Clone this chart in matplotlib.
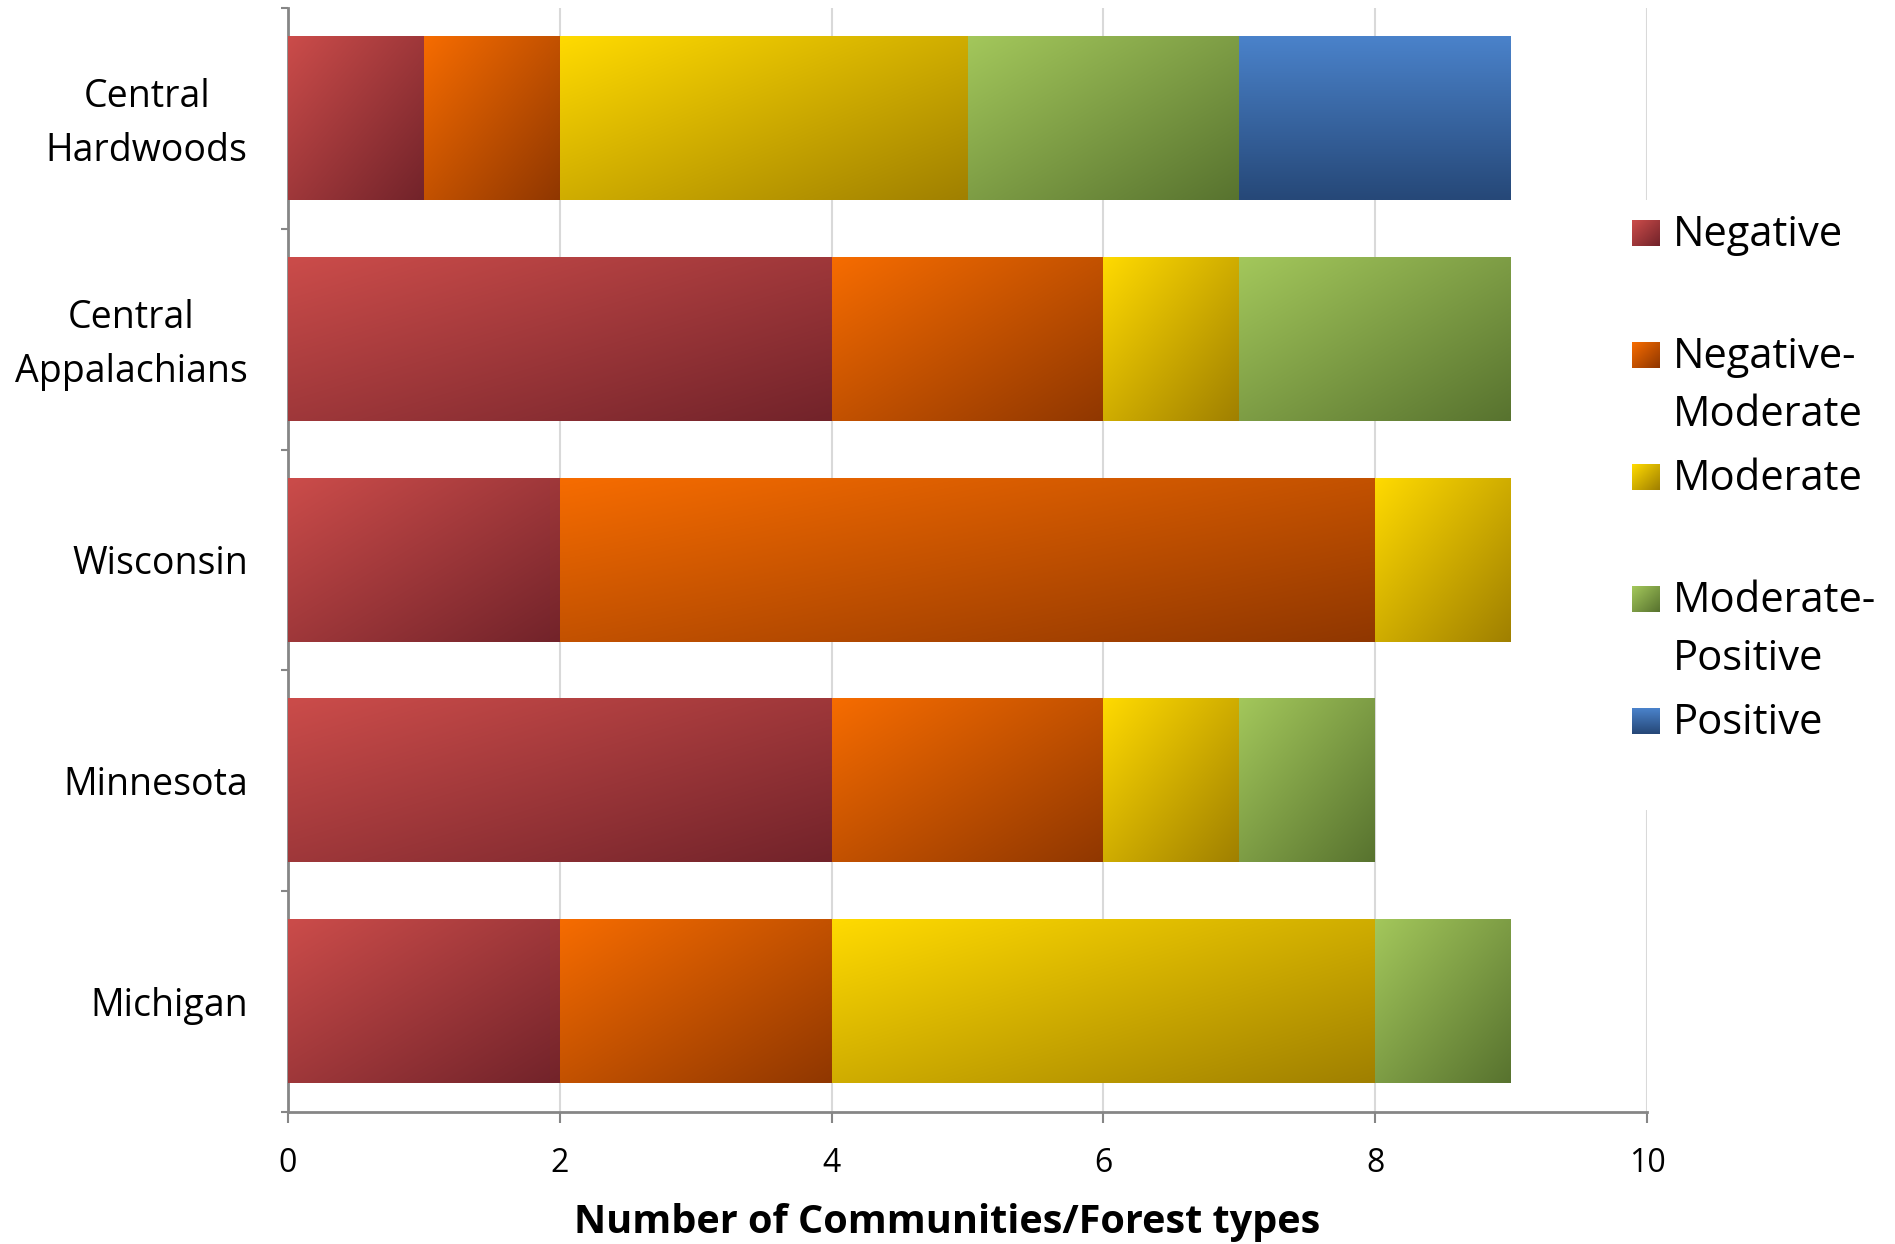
import matplotlib

matplotlib.use("Agg")
import matplotlib.pyplot as plt
import matplotlib.transforms as mtransforms
import numpy as np
from matplotlib.colors import to_rgb
from matplotlib.patches import Rectangle

REGIONS = ["Michigan", "Minnesota", "Wisconsin", "Central\nAppalachians", "Central\nHardwoods"]
SERIES = ["Negative", "Negative-\nModerate", "Moderate", "Moderate-\nPositive", "Positive"]

negative = [2, 4, 2, 4, 1]
negative_moderate = [2, 2, 6, 2, 1]
moderate = [4, 1, 1, 1, 3]
moderate_positive = [1, 1, 0, 2, 2]
positive = [0, 0, 0, 0, 2]

X_TICKS = [0, 2, 4, 6, 8, 10]

# (light, dark, direction) per series
GRADIENTS = [
    ("#CB4C4A", "#72232A", "diag"),
    ("#F66C00", "#903700", "diag"),
    ("#FFDA00", "#A08000", "diag"),
    ("#A3C75B", "#58732F", "diag"),
    ("#4A82CA", "#264878", "vert"),
]

W, H = 1895, 1244

plt.rcParams["font.family"] = ["Open Sans", "DejaVu Sans"]


def gradient_image(light, dark, direction, n=80):
    c0 = np.array(to_rgb(light))
    c1 = np.array(to_rgb(dark))
    u = np.linspace(0, 1, n)
    U, V = np.meshgrid(u, u)
    t = V if direction == "vert" else (U + V) / 2
    return c0 * (1 - t[..., None]) + c1 * t[..., None]


def main():
    fig = plt.figure(figsize=(W / 100, H / 100), dpi=100)
    ax = fig.add_axes([288 / W, 1 - 1112 / H, (1647 - 288) / W, (1112 - 8) / H])

    series_values = [negative, negative_moderate, moderate, moderate_positive, positive]
    y_pos = np.arange(len(REGIONS))
    left = np.zeros(len(REGIONS))

    for values, (light, dark, direction) in zip(series_values, GRADIENTS):
        bars = ax.barh(y_pos, values, left=left, height=0.74, color=dark, zorder=2)
        img = gradient_image(light, dark, direction)
        for patch in bars.patches:
            if patch.get_width() <= 0:
                continue
            x0, y0 = patch.get_x(), patch.get_y()
            ax.imshow(
                img,
                extent=(x0, x0 + patch.get_width(), y0, y0 + patch.get_height()),
                origin="upper",
                aspect="auto",
                interpolation="bilinear",
                zorder=3,
            )
        left += np.array(values)

    ax.set_xlim(0, 10)
    ax.set_ylim(-0.5, len(REGIONS) - 0.5)

    ax.set_xticks(X_TICKS)
    ax.set_xticklabels([str(t) for t in X_TICKS], fontsize=23)
    ax.tick_params(axis="x", length=8, width=1.5, color="#868686", pad=17, direction="out")

    ax.set_yticks(np.arange(-0.5, len(REGIONS), 1.0))
    ax.set_yticklabels([])
    ax.tick_params(axis="y", which="major", length=5, width=1.5, color="#868686", direction="out")
    ax.set_yticks(y_pos, minor=True)
    ax.set_yticklabels(REGIONS, minor=True, fontsize=27, multialignment="center", linespacing=1.55)
    ax.tick_params(axis="y", which="minor", length=0, pad=29)

    # two-line labels sit a little low in matplotlib; nudge them up
    nudge = mtransforms.ScaledTranslation(0, 5 / 72, fig.dpi_scale_trans)
    for label in ax.get_yticklabels(minor=True):
        if "\n" in label.get_text():
            label.set_transform(label.get_transform() + nudge)

    ax.grid(axis="x", color="#D9D9D9", linewidth=1.5, zorder=0)
    ax.set_axisbelow(True)

    for side in ("top", "right"):
        ax.spines[side].set_visible(False)
    for side in ("left", "bottom"):
        ax.spines[side].set_color("#868686")
        ax.spines[side].set_linewidth(2)

    fig.text(0.5, 1 - 1223 / H, "Number of Communities/Forest types", fontsize=28.5,
             fontweight="bold", ha="center", va="center")

    # legend: white panel over the right edge of the plot
    fig.patches.append(
        Rectangle((1618 / W, 1 - 810 / H), (W - 1618) / W, 610 / H,
                  transform=fig.transFigure, facecolor="white", edgecolor="none", zorder=1)
    )
    for i, (label, (light, dark, direction)) in enumerate(zip(SERIES, GRADIENTS)):
        baseline = 246 + i * 122
        sq = fig.add_axes([1632 / W, 1 - baseline / H, 28 / W, 26 / H], zorder=2)
        sq.imshow(gradient_image(light, dark, direction, 20), aspect="auto", interpolation="bilinear")
        sq.axis("off")
        for k, line in enumerate(label.split("\n")):
            fig.text(1673 / W, 1 - (baseline + k * 58) / H, line, fontsize=30,
                     va="baseline", ha="left", zorder=3)

    fig.savefig("out.png", dpi=100)


if __name__ == "__main__":
    main()
